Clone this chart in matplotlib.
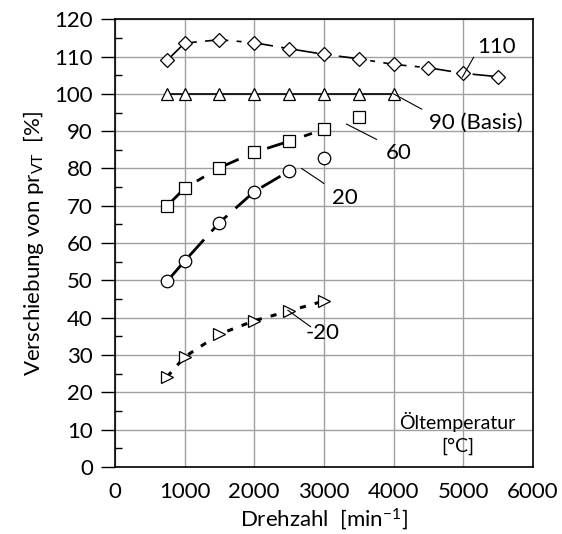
import numpy as np
import matplotlib.pyplot as plt
from matplotlib.ticker import MultipleLocator

# data
x_110 = [750, 1000, 1500, 2000, 2500, 3000, 3500, 4000, 4500, 5000, 5500]
y_110 = [109.0, 113.6, 114.5, 113.7, 112.1, 110.6, 109.4, 107.9, 107.0, 105.5, 104.6]

x_90 = [750, 1000, 1500, 2000, 2500, 3000, 3500, 4000]
y_90 = [100, 100, 100, 100, 100, 100, 100, 100]

x_60 = [750, 1000, 1500, 2000, 2500, 3000, 3500]
y_60 = [70.0, 74.7, 80.2, 84.3, 87.3, 90.5, 93.7]

x_20 = [750, 1000, 1500, 2000, 2500, 3000]
y_20 = [49.8, 55.2, 65.5, 73.8, 79.3, 82.7]

x_m20 = [750, 1000, 1500, 2000, 2500, 3000]
y_m20 = [24.2, 29.5, 35.6, 39.2, 41.8, 44.5]

plt.rcParams['font.family'] = ['Lato', 'DejaVu Sans']
plt.rcParams['font.size'] = 16
plt.rcParams['mathtext.fontset'] = 'custom'
plt.rcParams['mathtext.rm'] = 'Lato'
plt.rcParams['mathtext.it'] = 'Lato'

fig = plt.figure(figsize=(5.62, 5.34), dpi=100)
ax = fig.add_axes([0.2046, 0.1255, 0.7434, 0.8385])

mk = dict(markerfacecolor='white', markeredgecolor='black', markeredgewidth=0.9, color='black')

# 110 - dash-dot line over all points
ax.plot(x_110, y_110, linestyle=(0, (14, 5, 3, 5)), linewidth=1.2, marker='D', markersize=7, **mk)
# 90 (Basis) - solid
ax.plot(x_90, y_90, linestyle='-', linewidth=1.2, marker='^', markersize=9, **mk)
# 60 - line to 3000, last point alone
ax.plot(x_60[:-1], y_60[:-1], linestyle=(0, (10, 4, 3, 4)), linewidth=2.0, marker='s', markersize=8.5, **mk)
ax.plot(x_60[-1:], y_60[-1:], linestyle='none', marker='s', markersize=8.5, **mk)
# 20 - long dashes to 2500
ax.plot(x_20[:-1], y_20[:-1], linestyle=(0, (8, 4)), linewidth=2.0, marker='o', markersize=9, **mk)
ax.plot(x_20[-1:], y_20[-1:], linestyle='none', marker='o', markersize=9, **mk)
# -20 - dotted
ax.plot(x_m20, y_m20, linestyle=(0, (2, 3)), linewidth=2.2, marker='>', markersize=9, **mk)

# leader lines and labels
ax.plot([4990, 5150], [104.5, 109.8], color='black', linewidth=0.8)
ax.text(5196, 112.5, '110', fontsize=16, ha='left', va='center')
ax.plot([4000, 4406], [100, 95.9], color='black', linewidth=0.8)
ax.text(4507, 92.3, '90 (Basis)', fontsize=16, ha='left', va='center')
ax.plot([3325, 3756], [91.9, 87.8], color='black', linewidth=0.8)
ax.text(3890, 84.2, '60', fontsize=16, ha='left', va='center')
ax.plot([2680, 3000], [80.0, 76.0], color='black', linewidth=0.8)
ax.text(3115, 72.2, '20', fontsize=16, ha='left', va='center')
ax.plot([2483, 2809], [42.0, 37.6], color='black', linewidth=0.8)
ax.text(2740, 36.0, '-20', fontsize=16, ha='left', va='center')

ax.text(4909, 12.0, 'Öltemperatur', fontsize=14, ha='center', va='center')
ax.text(4923, 5.6, '[°C]', fontsize=14, ha='center', va='center')

ax.set_xlim(0, 6000)
ax.set_ylim(0, 120)
ax.xaxis.set_major_locator(MultipleLocator(1000))
ax.yaxis.set_major_locator(MultipleLocator(10))
ax.yaxis.set_minor_locator(MultipleLocator(5))
ax.tick_params(axis='x', which='major', direction='in', length=0, pad=11)
ax.tick_params(axis='y', which='major', direction='out', length=10, width=1.0, pad=6)
ax.tick_params(axis='y', which='minor', direction='in', length=5, width=1.0)
ax.grid(True, which='major', color='#a0a0a0', linewidth=1.0)
ax.set_axisbelow(True)
for s in ax.spines.values():
    s.set_linewidth(1.2)

ax.set_xlabel('Drehzahl  [min$^{-1}$]', fontsize=16, labelpad=3)
ax.set_ylabel('Verschiebung von pr$_{\\mathregular{VT}}$  [%]', fontsize=16, labelpad=6)

fig.savefig('out.png', dpi=100)
